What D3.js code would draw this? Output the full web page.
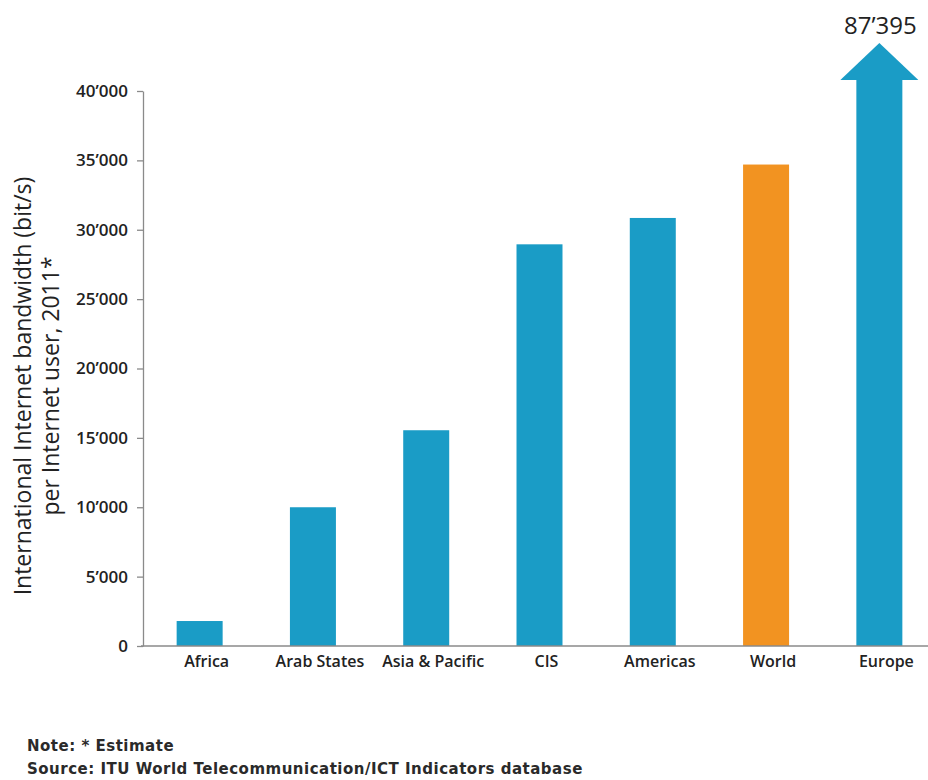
<!DOCTYPE html>
<html>
<head>
<meta charset="utf-8">
<script src="https://cdn.jsdelivr.net/npm/d3@7"></script>
<style>
  html, body { margin: 0; padding: 0; background: #fff; }
  svg { display: block; }
</style>
</head>
<body>
<svg id="chart" width="928" height="780"></svg>
<script>
// International Internet bandwidth per Internet user by region, 2011
const regions = ["Africa", "Arab States", "Asia & Pacific", "CIS", "Americas", "World", "Europe"];
const bandwidth = [1800, 10000, 15550, 28950, 30850, 34700, 87395];
const highlighted = ["World"];
const yTicks = [0, 5000, 10000, 15000, 20000, 25000, 30000, 35000, 40000];
const yMax = 40000;
const yTitle = ["International Internet bandwidth (bit/s)", "per Internet user, 2011*"];
const notes = ["Note: * Estimate", "Source: ITU World Telecommunication/ICT Indicators database"];

const BLUE = "#1a9cc6";
const ORANGE = "#f29321";
const AXIS = "#8a8a8a";
const TEXT = "#222";

const svg = d3.select("#chart");
const plotLeft = 143, plotRight = 936, plotTop = 91, plotBase = 646;

const x = d3.scaleBand().domain(regions).range([plotLeft, plotRight]).paddingInner(0.594).paddingOuter(0.297);
const y = d3.scaleLinear().domain([0, yMax]).range([plotBase, plotTop]);

const fmt = v => d3.format(",")(v).replace(/,/g, "\u2019");

// bars (values beyond the axis are cut at the top and marked with an arrow)
const bars = regions.map((r, i) => ({ region: r, value: bandwidth[i] }));
svg.append("g").selectAll("rect").data(bars).join("rect")
  .attr("x", d => x(d.region))
  .attr("width", x.bandwidth())
  .attr("y", d => d.value > yMax ? y(yMax) - 11 : y(d.value))
  .attr("height", d => d.value > yMax ? plotBase - y(yMax) + 11 : plotBase - y(d.value))
  .attr("fill", d => highlighted.includes(d.region) ? ORANGE : BLUE);

// overflow arrow and value label
const over = bars.filter(d => d.value > yMax);
const arrowG = svg.append("g").selectAll("g").data(over).join("g");
arrowG.append("path")
  .attr("fill", BLUE)
  .attr("d", d => {
    const cx = x(d.region) + x.bandwidth() / 2;
    const half = x.bandwidth() / 2 + 16;
    const by = y(yMax) - 11, ay = y(yMax) - 48;
    return `M${cx - half},${by}L${cx},${ay}L${cx + half},${by}Z`;
  });
arrowG.append("text")
  .attr("x", d => x(d.region) + x.bandwidth() / 2 + 1)
  .attr("y", 34)
  .attr("text-anchor", "middle")
  .attr("font-family", "'Open Sans', sans-serif")
  .attr("font-size", 24)
  .attr("fill", TEXT)
  .text(d => fmt(d.value));

// y axis
const yAxis = svg.append("g")
  .attr("transform", `translate(${plotLeft},0)`)
  .call(d3.axisLeft(y).tickValues(yTicks).tickFormat(fmt).tickSize(6).tickPadding(9).tickSizeOuter(0));
yAxis.select(".domain").attr("stroke", AXIS).attr("stroke-width", 1.3);
yAxis.selectAll(".tick line").attr("stroke", AXIS).attr("stroke-width", 1.3);
yAxis.selectAll(".tick text")
  .attr("font-family", "'Open Sans', sans-serif")
  .attr("font-weight", 600)
  .attr("font-size", 17)
  .attr("fill", TEXT);

// x axis baseline and labels
const xAxis = svg.append("g")
  .attr("transform", `translate(0,${plotBase})`)
  .call(d3.axisBottom(x).tickSize(0).tickPadding(10));
xAxis.select(".domain").attr("d", `M${plotLeft - 2},0H928`).attr("stroke", AXIS).attr("stroke-width", 1.3);
xAxis.selectAll(".tick text")
  .attr("dx", 7)
  .attr("font-family", "'Open Sans', sans-serif")
  .attr("font-weight", 600)
  .attr("font-size", 16)
  .attr("fill", TEXT);

// y axis title
const titleG = svg.append("g").attr("transform", "translate(31,386) rotate(-90)");
titleG.selectAll("text").data(yTitle).join("text")
  .attr("x", 0)
  .attr("y", (d, i) => i * 28)
  .attr("text-anchor", "middle")
  .attr("font-family", "'Open Sans', sans-serif")
  .attr("font-size", 23)
  .attr("fill", TEXT)
  .text(d => d);

// notes
svg.append("g").selectAll("text").data(notes).join("text")
  .attr("x", 27)
  .attr("y", (d, i) => 751 + i * 23)
  .attr("font-family", "'DejaVu Sans', sans-serif")
  .attr("font-weight", "bold")
  .attr("font-size", 15)
  .attr("letter-spacing", 0.5)
  .attr("fill", "#2a2a2a")
  .text(d => d);
</script>
</body>
</html>
